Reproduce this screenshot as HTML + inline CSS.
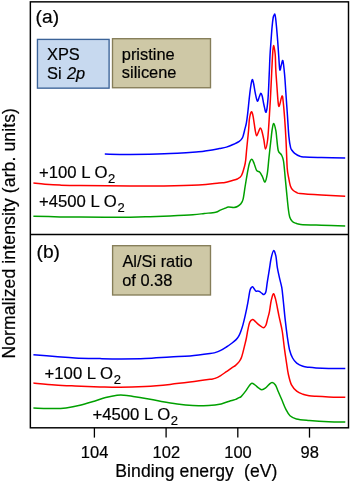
<!DOCTYPE html>
<html><head><meta charset="utf-8">
<style>
html,body{margin:0;padding:0;background:#fff;}
body{width:350px;height:483px;overflow:hidden;}
svg{display:block;}
text{font-family:"Liberation Sans",sans-serif;fill:#000;white-space:pre;stroke:#000;stroke-width:0.2px;}
svg{will-change:transform;}
</style></head><body>
<svg width="350" height="483" viewBox="0 0 350 483">
<!-- frame -->
<g fill="none" stroke="#000" stroke-width="1.45">
<rect x="30.35" y="1.85" width="318.15" height="425.95"/>
<line x1="30.35" y1="234.4" x2="348.5" y2="234.4"/>
</g>
<g stroke="#000" stroke-width="1.3">
<line x1="94.4" y1="427.8" x2="94.4" y2="437.6"/>
<line x1="166.1" y1="427.8" x2="166.1" y2="437.6"/>
<line x1="237.8" y1="427.8" x2="237.8" y2="437.6"/>
<line x1="309.5" y1="427.8" x2="309.5" y2="437.6"/>
</g>
<!-- boxes -->
<rect x="37.45" y="39.4" width="71.65" height="48.75" fill="#c7d9ef" stroke="#3b6398" stroke-width="1.35"/>
<rect x="112.5" y="38.7" width="98" height="49.05" fill="#cec8a6" stroke="#857d58" stroke-width="1.35"/>
<rect x="112.6" y="245.7" width="97.9" height="49.3" fill="#cec8a6" stroke="#857d58" stroke-width="1.35"/>
<path d="M104.80,154.10 C109.00,154.15 120.08,154.45 130.00,154.40 C139.92,154.35 152.87,154.23 164.30,153.80 C175.73,153.37 191.82,152.25 198.60,151.80 C205.38,151.35 202.75,151.40 205.00,151.10 C207.25,150.80 209.72,150.42 212.10,150.00 C214.48,149.58 216.92,149.08 219.30,148.60 C221.68,148.12 224.02,147.82 226.40,147.10 C228.78,146.38 231.45,145.25 233.60,144.30 C235.75,143.35 237.83,142.47 239.30,141.40 C240.77,140.33 241.68,139.08 242.40,137.90 C243.12,136.72 243.17,135.85 243.60,134.30 C244.03,132.75 244.53,130.50 245.00,128.60 C245.47,126.70 245.95,125.43 246.40,122.90 C246.85,120.37 247.23,117.40 247.70,113.40 C248.17,109.40 248.72,103.23 249.20,98.90 C249.68,94.57 250.12,90.58 250.60,87.40 C251.08,84.22 251.62,80.53 252.10,79.80 C252.58,79.07 252.97,80.77 253.50,83.00 C254.03,85.23 254.65,90.18 255.30,93.20 C255.95,96.22 256.73,100.50 257.40,101.10 C258.07,101.70 258.73,98.12 259.30,96.80 C259.87,95.48 260.32,93.33 260.80,93.20 C261.28,93.07 261.68,94.08 262.20,96.00 C262.72,97.92 263.25,102.00 263.90,104.70 C264.55,107.40 265.42,113.17 266.10,112.20 C266.78,111.23 267.48,105.17 268.00,98.90 C268.52,92.63 268.87,81.80 269.20,74.60 C269.53,67.40 269.70,61.27 270.00,55.70 C270.30,50.13 270.65,46.03 271.00,41.20 C271.35,36.37 271.73,30.65 272.10,26.70 C272.47,22.75 272.87,19.42 273.20,17.50 C273.53,15.58 273.83,15.75 274.10,15.20 C274.37,14.65 274.55,13.73 274.80,14.20 C275.05,14.67 275.32,15.92 275.60,18.00 C275.88,20.08 276.15,22.83 276.50,26.70 C276.85,30.57 277.33,36.37 277.70,41.20 C278.07,46.03 278.35,50.93 278.70,55.70 C279.05,60.47 279.37,68.23 279.80,69.80 C280.23,71.37 280.78,66.60 281.30,65.10 C281.82,63.60 282.35,59.22 282.90,60.80 C283.45,62.38 284.12,69.45 284.60,74.60 C285.08,79.75 285.32,84.75 285.80,91.70 C286.28,98.65 286.98,108.82 287.50,116.30 C288.02,123.78 288.38,131.38 288.90,136.60 C289.42,141.82 290.00,145.20 290.60,147.60 C291.20,150.00 291.82,150.05 292.50,151.00 C293.18,151.95 293.45,152.42 294.70,153.30 C295.95,154.18 298.32,155.68 300.00,156.30 C301.68,156.92 301.23,156.80 304.80,157.00 C308.37,157.20 314.67,157.33 321.40,157.50 C328.13,157.67 341.23,157.92 345.20,158.00" fill="none" stroke="#0000ff" stroke-width="1.5" stroke-linejoin="round" stroke-linecap="butt"/>
<path d="M33.40,183.10 C35.33,183.28 40.57,183.87 45.00,184.20 C49.43,184.53 54.17,184.87 60.00,185.10 C65.83,185.33 68.33,185.45 80.00,185.60 C91.67,185.75 116.00,185.95 130.00,186.00 C144.00,186.05 152.57,186.08 164.00,185.90 C175.43,185.72 189.43,185.38 198.60,184.90 C207.77,184.42 214.60,183.40 219.00,183.00 C223.40,182.60 222.77,182.92 225.00,182.50 C227.23,182.08 230.35,181.08 232.40,180.50 C234.45,179.92 235.78,179.83 237.30,179.00 C238.82,178.17 240.28,177.67 241.50,175.50 C242.72,173.33 243.90,168.58 244.60,166.00 C245.30,163.42 245.37,162.67 245.70,160.00 C246.03,157.33 246.28,153.33 246.60,150.00 C246.92,146.67 247.27,143.33 247.60,140.00 C247.93,136.67 248.32,133.33 248.60,130.00 C248.88,126.67 249.03,122.52 249.30,120.00 C249.57,117.48 249.82,116.28 250.20,114.90 C250.58,113.52 251.12,111.47 251.60,111.70 C252.08,111.93 252.48,113.12 253.10,116.30 C253.72,119.48 254.70,127.55 255.30,130.80 C255.90,134.05 256.10,135.80 256.70,135.80 C257.30,135.80 258.30,132.12 258.90,130.80 C259.50,129.48 259.82,127.90 260.30,127.90 C260.78,127.90 261.20,128.78 261.80,130.80 C262.40,132.82 263.28,136.97 263.90,140.00 C264.52,143.03 264.88,149.00 265.50,149.00 C266.12,149.00 267.02,144.48 267.60,140.00 C268.18,135.52 268.53,128.95 269.00,122.10 C269.47,115.25 269.93,107.58 270.40,98.90 C270.87,90.22 271.43,77.32 271.80,70.00 C272.17,62.68 272.32,59.07 272.60,55.00 C272.88,50.93 273.07,45.72 273.50,45.60 C273.93,45.48 274.82,50.23 275.20,54.30 C275.58,58.37 275.48,64.25 275.80,70.00 C276.12,75.75 276.72,83.50 277.10,88.80 C277.48,94.10 277.75,98.90 278.10,101.80 C278.45,104.70 278.55,107.17 279.20,106.20 C279.85,105.23 281.33,96.73 282.00,96.00 C282.67,95.27 282.77,98.17 283.20,101.80 C283.63,105.43 284.13,111.43 284.60,117.80 C285.07,124.17 285.57,131.63 286.00,140.00 C286.43,148.37 286.75,161.67 287.20,168.00 C287.65,174.33 288.17,175.00 288.70,178.00 C289.23,181.00 289.72,184.00 290.40,186.00 C291.08,188.00 291.77,188.92 292.80,190.00 C293.83,191.08 295.40,191.92 296.60,192.50 C297.80,193.08 295.87,193.08 300.00,193.50 C304.13,193.92 313.87,194.55 321.40,195.00 C328.93,195.45 341.23,196.00 345.20,196.20" fill="none" stroke="#ff0000" stroke-width="1.5" stroke-linejoin="round" stroke-linecap="butt"/>
<path d="M33.40,216.20 C37.83,216.32 52.23,216.75 60.00,216.90 C67.77,217.05 68.33,217.05 80.00,217.10 C91.67,217.15 118.33,217.27 130.00,217.20 C141.67,217.13 143.33,216.92 150.00,216.70 C156.67,216.48 162.85,216.23 170.00,215.90 C177.15,215.57 187.18,215.10 192.90,214.70 C198.62,214.30 200.50,213.92 204.30,213.50 C208.10,213.08 213.03,212.77 215.70,212.20 C218.37,211.63 218.77,210.75 220.30,210.10 C221.83,209.45 223.57,208.80 224.90,208.30 C226.23,207.80 226.78,207.25 228.30,207.10 C229.82,206.95 232.48,207.50 234.00,207.40 C235.52,207.30 236.25,207.12 237.40,206.50 C238.55,205.88 239.95,204.93 240.90,203.70 C241.85,202.47 242.38,202.05 243.10,199.10 C243.82,196.15 244.40,190.82 245.20,186.00 C246.00,181.18 247.18,174.03 247.90,170.20 C248.62,166.37 248.85,164.82 249.50,163.00 C250.15,161.18 251.05,159.27 251.80,159.30 C252.55,159.33 253.20,161.35 254.00,163.20 C254.80,165.05 255.63,168.90 256.60,170.40 C257.57,171.90 258.85,171.20 259.80,172.20 C260.75,173.20 261.43,174.77 262.30,176.40 C263.17,178.03 264.17,182.45 265.00,182.00 C265.83,181.55 266.63,177.80 267.30,173.70 C267.97,169.60 268.37,163.27 269.00,157.40 C269.63,151.53 270.58,143.07 271.10,138.50 C271.62,133.93 271.67,132.50 272.10,130.00 C272.53,127.50 273.07,123.37 273.70,123.50 C274.33,123.63 275.38,128.22 275.90,130.80 C276.42,133.38 276.40,135.68 276.80,139.00 C277.20,142.32 277.53,148.07 278.30,150.70 C279.07,153.33 280.53,153.08 281.40,154.80 C282.27,156.52 282.87,157.20 283.50,161.00 C284.13,164.80 284.68,172.42 285.20,177.60 C285.72,182.78 286.08,186.92 286.60,192.10 C287.12,197.28 287.78,204.55 288.30,208.70 C288.82,212.85 289.02,214.87 289.70,217.00 C290.38,219.13 291.35,220.45 292.40,221.50 C293.45,222.55 294.62,222.82 296.00,223.30 C297.38,223.78 296.47,224.08 300.70,224.40 C304.93,224.72 313.98,224.95 321.40,225.20 C328.82,225.45 341.23,225.78 345.20,225.90" fill="none" stroke="#00a000" stroke-width="1.5" stroke-linejoin="round" stroke-linecap="butt"/>
<path d="M33.40,354.70 C37.00,354.98 48.07,355.87 55.00,356.40 C61.93,356.93 67.50,357.53 75.00,357.90 C82.50,358.27 92.50,358.43 100.00,358.60 C107.50,358.77 112.50,358.90 120.00,358.90 C127.50,358.90 136.67,358.92 145.00,358.60 C153.33,358.28 162.50,357.45 170.00,357.00 C177.50,356.55 183.33,356.47 190.00,355.90 C196.67,355.33 205.83,354.15 210.00,353.60 C214.17,353.05 213.22,353.13 215.00,352.60 C216.78,352.07 218.80,351.33 220.70,350.40 C222.60,349.47 224.50,348.23 226.40,347.00 C228.30,345.77 230.48,344.23 232.10,343.00 C233.72,341.77 235.02,340.70 236.10,339.60 C237.18,338.50 237.85,337.67 238.60,336.40 C239.35,335.13 239.87,333.97 240.60,332.00 C241.33,330.03 242.20,327.48 243.00,324.60 C243.80,321.72 244.58,318.42 245.40,314.70 C246.22,310.98 247.17,306.22 247.90,302.30 C248.63,298.38 249.28,293.58 249.80,291.20 C250.32,288.82 250.53,288.73 251.00,288.00 C251.47,287.27 252.08,286.68 252.60,286.80 C253.12,286.92 253.53,287.97 254.10,288.70 C254.67,289.43 255.38,290.83 256.00,291.20 C256.62,291.57 257.25,290.87 257.80,290.90 C258.35,290.93 258.68,291.05 259.30,291.40 C259.92,291.75 260.72,292.47 261.50,293.00 C262.28,293.53 263.27,294.80 264.00,294.60 C264.73,294.40 265.35,293.88 265.90,291.80 C266.45,289.72 266.72,285.88 267.30,282.10 C267.88,278.32 268.75,273.12 269.40,269.10 C270.05,265.08 270.50,261.08 271.20,258.00 C271.90,254.92 272.82,250.92 273.60,250.60 C274.38,250.28 275.28,253.32 275.90,256.10 C276.52,258.88 276.68,263.58 277.30,267.30 C277.92,271.02 278.85,275.00 279.60,278.40 C280.35,281.80 281.20,284.10 281.80,287.70 C282.40,291.30 282.62,294.50 283.20,300.00 C283.78,305.50 284.60,314.48 285.30,320.70 C286.00,326.92 286.70,332.47 287.40,337.30 C288.10,342.13 288.63,346.25 289.50,349.70 C290.37,353.15 291.40,355.77 292.60,358.00 C293.80,360.23 294.98,361.72 296.70,363.10 C298.42,364.48 300.83,365.60 302.90,366.30 C304.97,367.00 306.92,367.03 309.10,367.30 C311.28,367.57 312.75,367.72 316.00,367.90 C319.25,368.08 323.72,368.28 328.60,368.40 C333.48,368.52 342.52,368.57 345.30,368.60" fill="none" stroke="#0000ff" stroke-width="1.5" stroke-linejoin="round" stroke-linecap="butt"/>
<path d="M33.40,383.10 C37.00,383.42 48.07,384.52 55.00,385.00 C61.93,385.48 67.50,385.68 75.00,386.00 C82.50,386.32 92.50,386.68 100.00,386.90 C107.50,387.12 112.50,387.38 120.00,387.30 C127.50,387.22 136.67,386.88 145.00,386.40 C153.33,385.92 162.50,385.12 170.00,384.40 C177.50,383.68 183.33,382.95 190.00,382.10 C196.67,381.25 205.83,379.92 210.00,379.30 C214.17,378.68 213.22,379.02 215.00,378.40 C216.78,377.78 218.80,376.73 220.70,375.60 C222.60,374.47 224.50,372.93 226.40,371.60 C228.30,370.27 230.57,368.65 232.10,367.60 C233.63,366.55 234.45,366.25 235.60,365.30 C236.75,364.35 238.05,363.13 239.00,361.90 C239.95,360.67 240.63,359.53 241.30,357.90 C241.97,356.27 242.43,354.20 243.00,352.10 C243.57,350.00 244.13,347.65 244.70,345.30 C245.27,342.95 245.87,340.62 246.40,338.00 C246.93,335.38 247.33,332.25 247.90,329.60 C248.47,326.95 249.02,323.80 249.80,322.10 C250.58,320.40 251.78,319.60 252.60,319.40 C253.42,319.20 253.93,320.23 254.70,320.90 C255.47,321.57 256.27,322.58 257.20,323.40 C258.13,324.22 259.27,325.08 260.30,325.80 C261.33,326.52 262.47,327.80 263.40,327.70 C264.33,327.60 265.18,326.75 265.90,325.20 C266.62,323.65 267.12,320.62 267.70,318.40 C268.28,316.18 268.82,314.85 269.40,311.90 C269.98,308.95 270.53,303.73 271.20,300.70 C271.87,297.67 272.68,294.00 273.40,293.70 C274.12,293.40 274.82,296.43 275.50,298.90 C276.18,301.37 276.90,305.55 277.50,308.50 C278.10,311.45 278.32,312.85 279.10,316.60 C279.88,320.35 281.33,325.83 282.20,331.00 C283.07,336.17 283.60,342.42 284.30,347.60 C285.00,352.78 285.72,357.62 286.40,362.10 C287.08,366.58 287.55,370.70 288.40,374.50 C289.25,378.30 290.12,382.13 291.50,384.90 C292.88,387.67 294.80,389.55 296.70,391.10 C298.60,392.65 300.83,393.43 302.90,394.20 C304.97,394.97 306.92,395.35 309.10,395.70 C311.28,396.05 312.75,396.10 316.00,396.30 C319.25,396.50 323.72,396.73 328.60,396.90 C333.48,397.07 342.52,397.23 345.30,397.30" fill="none" stroke="#ff0000" stroke-width="1.5" stroke-linejoin="round" stroke-linecap="butt"/>
<path d="M33.40,408.00 C37.00,408.10 49.57,408.62 55.00,408.60 C60.43,408.58 61.83,408.45 66.00,407.90 C70.17,407.35 75.28,406.42 80.00,405.30 C84.72,404.18 90.02,402.48 94.30,401.20 C98.58,399.92 101.90,398.58 105.70,397.60 C109.50,396.62 114.05,395.70 117.10,395.30 C120.15,394.90 121.33,395.02 124.00,395.20 C126.67,395.38 129.48,395.87 133.10,396.40 C136.72,396.93 140.98,397.57 145.70,398.40 C150.42,399.23 156.15,400.48 161.40,401.40 C166.65,402.32 171.95,403.23 177.20,403.90 C182.45,404.57 187.67,405.12 192.90,405.40 C198.13,405.68 203.88,405.85 208.60,405.60 C213.32,405.35 217.53,404.72 221.20,403.90 C224.87,403.08 228.18,401.45 230.60,400.70 C233.02,399.95 234.38,399.88 235.70,399.40 C237.02,398.92 237.60,398.27 238.50,397.80 C239.40,397.33 239.95,397.67 241.10,396.60 C242.25,395.53 244.08,393.15 245.40,391.40 C246.72,389.65 247.93,387.45 249.00,386.10 C250.07,384.75 250.80,383.48 251.80,383.30 C252.80,383.12 253.82,384.18 255.00,385.00 C256.18,385.82 257.75,387.42 258.90,388.20 C260.05,388.98 260.83,389.70 261.90,389.70 C262.97,389.70 264.13,389.05 265.30,388.20 C266.47,387.35 267.77,385.57 268.90,384.60 C270.03,383.63 271.02,382.33 272.10,382.40 C273.18,382.47 274.40,383.53 275.40,385.00 C276.40,386.47 277.07,388.82 278.10,391.20 C279.13,393.58 280.30,396.27 281.60,399.30 C282.90,402.33 284.50,406.67 285.90,409.40 C287.30,412.13 288.25,414.12 290.00,415.70 C291.75,417.28 293.18,418.12 296.40,418.90 C299.62,419.68 303.93,419.93 309.30,420.40 C314.67,420.87 322.60,421.42 328.60,421.70 C334.60,421.98 342.52,422.03 345.30,422.10" fill="none" stroke="#00a000" stroke-width="1.5" stroke-linejoin="round" stroke-linecap="butt"/>

<!-- texts -->
<text x="35.6" y="22.6" font-size="19.2">(a)</text>
<text x="36.5" y="257.6" font-size="19.2">(b)</text>
<g font-size="16.4">
<text x="47" y="60.1">XPS</text>
<text x="47" y="79">Si <tspan font-style="italic" dx="0.8">2p</tspan></text>
<text x="121.8" y="60.2">pristine</text>
<text x="121.8" y="78.1">silicene</text>
<text x="122.4" y="267.1">Al/Si ratio</text>
<text x="122.2" y="286">of 0.38</text>
</g>
<g font-size="16.7">
<text x="39" y="178">+100 L O<tspan font-size="13" dy="5" dx="0.6">2</tspan></text>
<text x="39" y="206.6">+4500 L O<tspan font-size="13" dy="5" dx="0.6">2</tspan></text>
<text x="44.6" y="378.8">+100 L O<tspan font-size="13" dy="5" dx="0.6">2</tspan></text>
<text x="92.4" y="419.5">+4500 L O<tspan font-size="13" dy="5" dx="0.6">2</tspan></text>
</g>
<g font-size="16.5" text-anchor="middle">
<text x="94.6" y="457.8">104</text>
<text x="166.3" y="457.8">102</text>
<text x="238" y="457.8">100</text>
<text x="309.7" y="457.8">98</text>
</g>
<text x="115.2" y="477.1" font-size="17.6" letter-spacing="0.1">Binding energy  (eV)</text>
<text transform="translate(15.2,358.6) rotate(-90)" font-size="17.6" letter-spacing="0.1">Normalized intensity (arb. units)</text>
</svg>
</body></html>
